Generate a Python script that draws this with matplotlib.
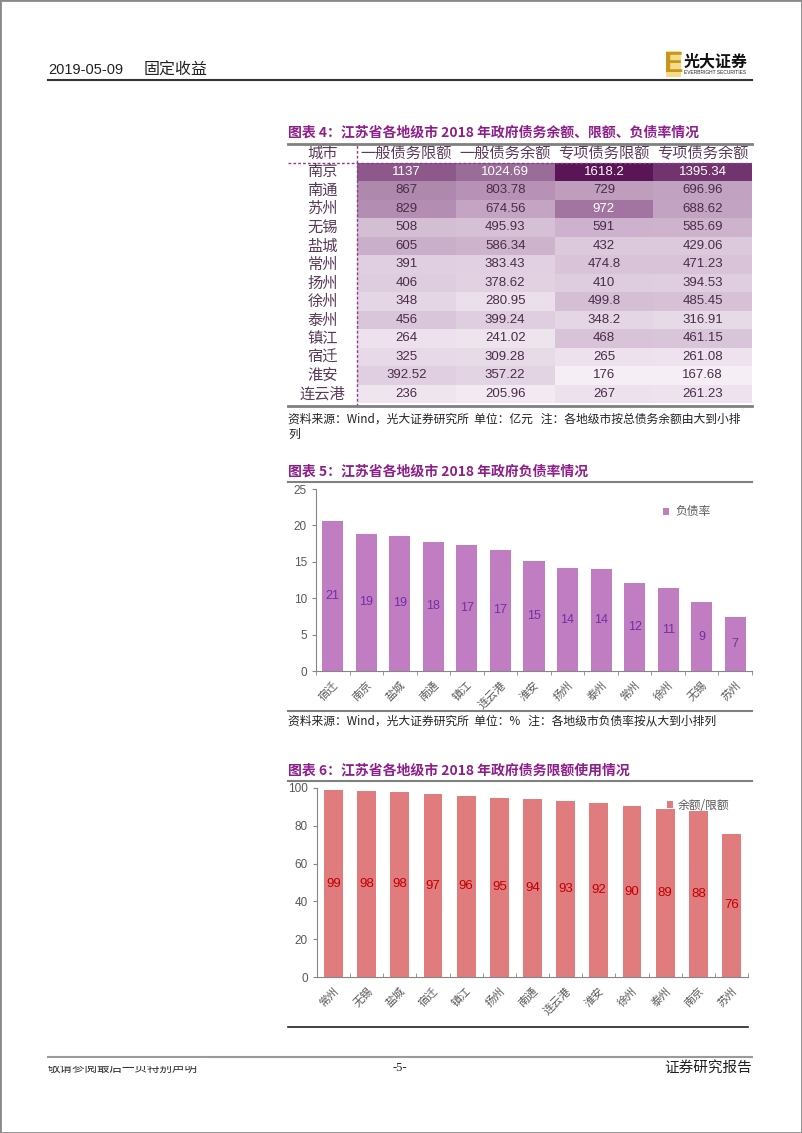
import matplotlib
matplotlib.use('Agg')
import matplotlib.pyplot as plt
import numpy as np
from matplotlib.colors import LinearSegmentedColormap, Normalize
from matplotlib.patches import Rectangle
from matplotlib.lines import Line2D

W, H = 802, 1133
CJK = ['Noto Sans CJK SC', 'DejaVu Sans']
NUM = ['Liberation Sans', 'DejaVu Sans']
plt.rcParams['font.family'] = CJK

# 图表4: table values (亿元)
cities = ['南京', '南通', '苏州', '无锡', '盐城', '常州', '扬州', '徐州', '泰州', '镇江', '宿迁', '淮安', '连云港']
columns = ['一般债务限额', '一般债务余额', '专项债务限额', '专项债务余额']
general_limit = [1137, 867, 829, 508, 605, 391, 406, 348, 456, 264, 325, 392.52, 236]
general_balance = [1024.69, 803.78, 674.56, 495.93, 586.34, 383.43, 378.62, 280.95, 399.24, 241.02, 309.28, 357.22, 205.96]
special_limit = [1618.2, 729, 972, 591, 432, 474.8, 410, 499.8, 348.2, 468, 265, 176, 267]
special_balance = [1395.34, 696.96, 688.62, 585.69, 429.06, 471.23, 394.53, 485.45, 316.91, 461.15, 261.08, 167.68, 261.23]

# 图表5: debt ratio (%)
ratio_cities = ['宿迁', '南京', '盐城', '南通', '镇江', '连云港', '淮安', '扬州', '泰州', '常州', '徐州', '无锡', '苏州']
debt_ratio = [20.65, 18.83, 18.55, 17.78, 17.32, 16.64, 15.17, 14.12, 14.03, 12.11, 11.38, 9.45, 7.35]

# 图表6: balance / limit (%)
usage_cities = ['常州', '无锡', '盐城', '宿迁', '镇江', '扬州', '南通', '连云港', '淮安', '徐州', '泰州', '南京', '苏州']
usage = [98.7, 98.4, 97.9, 96.7, 95.9, 94.8, 94.0, 92.9, 92.3, 90.4, 89.1, 87.8, 75.7]

PURPLE = '#8e1e8c'
GRAY_TXT = '#595959'

fig = plt.figure(figsize=(W / 100, H / 100), dpi=100)


def fx(x):
    return x / W


def fy(y):
    return 1 - y / H


def hline(x0, x1, y, color='#808080', lw=1.5):
    fig.add_artist(Line2D([fx(x0), fx(x1)], [fy(y), fy(y)], color=color, lw=lw))


def axes_px(left, top, right, bottom):
    return fig.add_axes([fx(left), fy(bottom), (right - left) / W, (bottom - top) / H])


def ftext(x, y, s, **kw):
    kw.setdefault('va', 'center')
    return fig.text(fx(x), fy(y), s, **kw)


# page frame
fig.add_artist(Rectangle((0, 0), 1, 1, transform=fig.transFigure, fill=False, ec='#8a8a8a', lw=2))

# header
ftext(48, 70, '2019-05-09', fontsize=10.5, family=['Liberation Sans Narrow', 'Liberation Sans'], color='#222222')
ftext(144, 70, '固定收益', fontsize=11.5, color='#222222')
hline(48, 752, 80, color='#333333', lw=1.5)
fig.add_artist(Rectangle((fx(666), fy(77)), 15 / W, 26 / H, transform=fig.transFigure, fc='#f3dc8a', ec='none'))
ftext(664.5, 64, 'E', fontsize=21, fontweight='bold', color='#c9961c', family=NUM)
ftext(684, 61, '光大证券', fontsize=11.5, fontweight='bold', color='#111111')
ftext(684, 73, 'EVERBRIGHT SECURITIES', fontsize=3.5, color='#222222', family=NUM)

# ---------- 图表4 table ----------
ftext(288, 133, '图表 4：江苏省各地级市 2018 年政府债务余额、限额、负债率情况',
      fontsize=10, fontweight='bold', color=PURPLE)
ax_t = axes_px(288, 144, 752, 406)
vals = np.array([general_limit, general_balance, special_limit, special_balance]).T
cmap = LinearSegmentedColormap.from_list('purp', [(0, '#f6f0f6'), (0.2, '#dac6da'), (0.45, '#b590b4'),
                                                  (0.65, '#8f5d8d'), (1, '#5a1556')])
norm = Normalize(vmin=160, vmax=1620)
ax_t.pcolormesh(np.arange(5), np.arange(14), vals, cmap=cmap, norm=norm)
ax_t.set_xlim(-0.70, 4)
ax_t.set_ylim(13.15, -1)
ax_t.axis('off')
for i, city in enumerate(cities):
    ax_t.text(-0.35, i + 0.5, city, ha='center', va='center', fontsize=11, color='#5a3a5a')
    for j in range(4):
        v = vals[i, j]
        c = 'white' if norm(v) > 0.55 else '#4a2c4a'
        ax_t.text(j + 0.5, i + 0.5, f'{v:g}', ha='center', va='center', fontsize=9.5, color=c, family=NUM)
ax_t.text(-0.35, -0.5, '城市', ha='center', va='center', fontsize=11, color='#5a3a5a')
for j, name in enumerate(columns):
    ax_t.text(j + 0.5, -0.5, name, ha='center', va='center', fontsize=11, color='#5a3a5a')
ax_t.axhline(0, color='#8e3c8e', ls=(0, (2, 1.5)), lw=1)
ax_t.axvline(0, color='#8e3c8e', ls=(0, (2, 1.5)), lw=1)
hline(288, 752, 144, lw=2)
hline(288, 752, 406, lw=2)
ftext(288, 419, '资料来源：Wind，光大证券研究所  单位：亿元   注：各地级市按总债务余额由大到小排',
      fontsize=8.5, color='#222222')
ftext(288, 434, '列', fontsize=8.5, color='#222222')


def style_axes(ax, tick_dir):
    for s in ['top', 'right']:
        ax.spines[s].set_visible(False)
    for s in ['left', 'bottom']:
        ax.spines[s].set_color('#868686')
        ax.spines[s].set_linewidth(0.8)
    ax.set_xlim(-0.5, 12.5)
    ax.set_xticks(np.arange(-0.5, 13, 1), minor=True)
    ax.tick_params(axis='x', which='major', length=0, pad=6)
    ax.tick_params(axis='x', which='minor', length=3, direction=tick_dir, color='#868686')
    ax.tick_params(axis='y', length=3, color='#868686', labelsize=8.5, labelcolor=GRAY_TXT)
    for lab in ax.get_yticklabels():
        lab.set_family(NUM)


# ---------- 图表5 ----------
ftext(288, 471, '图表 5：江苏省各地级市 2018 年政府负债率情况', fontsize=10, fontweight='bold', color=PURPLE)
hline(288, 752, 481.5, lw=1.5)
ax5 = axes_px(316, 489, 752, 671)
ax5.bar(range(len(debt_ratio)), debt_ratio, width=0.63, color='#c17dc1', label='负债率')
for i, v in enumerate(debt_ratio):
    ax5.text(i, v / 2, f'{v:.0f}', ha='center', va='center', color='#7030a0', fontsize=9, family=NUM)
ax5.set_ylim(0, 25)
ax5.set_yticks(range(0, 26, 5))
ax5.set_xticks(range(len(ratio_cities)))
ax5.set_xticklabels(ratio_cities, rotation=45, ha='right', rotation_mode='anchor', fontsize=8, color=GRAY_TXT)
style_axes(ax5, 'out')
ax5.legend(loc='center left', bbox_to_anchor=(0.796, 0.874), frameon=False, fontsize=8.5, labelcolor=GRAY_TXT,
           handlelength=0.5, handleheight=0.5, handletextpad=0.5, borderpad=0, borderaxespad=0)
hline(288, 752, 711, lw=1.5)
ftext(288, 721, '资料来源：Wind，光大证券研究所  单位：%   注：各地级市负债率按从大到小排列',
      fontsize=8.5, color='#222222')

# ---------- 图表6 ----------
ftext(288, 770, '图表 6：江苏省各地级市 2018 年政府债务限额使用情况', fontsize=10, fontweight='bold', color=PURPLE)
hline(288, 752, 781, lw=1.5)
ax6 = axes_px(317, 788, 748, 977)
ax6.bar(range(len(usage)), usage, width=0.57, color='#e07c7e', label='余额/限额')
for i, v in enumerate(usage):
    ax6.text(i, v / 2, f'{v:.0f}', ha='center', va='center', color='#c00000', fontsize=9.5, family=NUM)
ax6.set_ylim(0, 100)
ax6.set_yticks(range(0, 101, 20))
ax6.set_xticks(range(len(usage_cities)))
ax6.set_xticklabels(usage_cities, rotation=45, ha='right', rotation_mode='anchor', fontsize=8, color=GRAY_TXT)
style_axes(ax6, 'in')
ax6.legend(loc='center left', bbox_to_anchor=(0.812, 0.91), frameon=False, fontsize=8.5, labelcolor=GRAY_TXT,
           handlelength=0.5, handleheight=0.5, handletextpad=0.4, borderpad=0, borderaxespad=0)
hline(288, 748, 1027, color='#222222', lw=1.2)

# footer
hline(48, 752, 1057, color='#9a9a9a', lw=1.5)
ftext(48, 1068, '敬请参阅最后一页特别声明', fontsize=9, color='#333333')
fig.add_artist(Rectangle((fx(46), fy(1066)), fx(160), 8 / H, transform=fig.transFigure,
                         fc='white', ec='none', zorder=10))
ftext(400, 1068, '-5-', fontsize=9, ha='center', family=['Liberation Serif'], color='#222222')
ftext(752, 1068, '证券研究报告', fontsize=10.5, ha='right', color='#222222')

fig.savefig('out.png', dpi=100)
